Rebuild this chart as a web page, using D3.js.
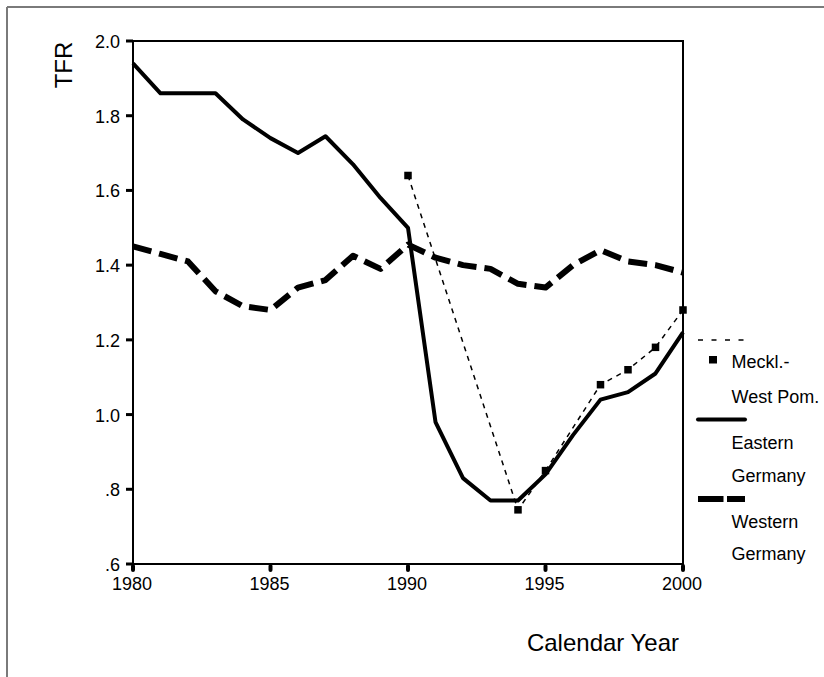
<!DOCTYPE html>
<html><head><meta charset="utf-8">
<script src="https://cdn.jsdelivr.net/npm/d3@7/dist/d3.min.js"></script>
<style>body{margin:0;background:#fff}svg{display:block;font-family:"Liberation Sans",Arial,sans-serif}</style>
</head><body><svg id="c" width="824" height="677"></svg>
<script>
const years = d3.range(1980, 2001);
const eastern = [1.94,1.86,1.86,1.86,1.79,1.74,1.70,1.745,1.67,1.58,1.50,0.98,0.83,0.77,0.77,0.84,0.945,1.04,1.06,1.11,1.22];
const western = [1.45,1.43,1.41,1.33,1.29,1.28,1.34,1.36,1.425,1.39,1.455,1.42,1.40,1.39,1.35,1.34,1.40,1.44,1.41,1.40,1.38];
const mecklYears = [1990,1994,1995,1997,1998,1999,2000];
const meckl = [1.64,0.745,0.85,1.08,1.12,1.18,1.28];
const yTicks = [0.6,0.8,1.0,1.2,1.4,1.6,1.8,2.0];
const yTickLabels = [".6",".8","1.0","1.2","1.4","1.6","1.8","2.0"];
const xTicks = [1980,1985,1990,1995,2000];
const legendItems = [
  {lines:["Meckl.-","West Pom."], key:"meckl"},
  {lines:["Eastern","Germany"], key:"eastern"},
  {lines:["Western","Germany"], key:"western"}
];

const svg = d3.select("#c");
const x = d3.scaleLinear().domain([1980,2000]).range([133,683]);
const y = d3.scaleLinear().domain([0.6,2.0]).range([564,41]);

// outer frame (partially visible)
svg.append("line").attr("x1",7).attr("x2",824).attr("y1",7).attr("y2",7).attr("stroke","#7a7a7a").attr("stroke-width",2);
svg.append("line").attr("x1",7).attr("x2",7).attr("y1",7).attr("y2",677).attr("stroke","#7a7a7a").attr("stroke-width",2);

// plot box
svg.append("rect").attr("x",x(1980)).attr("y",y(2.0)).attr("width",x(2000)-x(1980)).attr("height",y(0.6)-y(2.0))
  .attr("fill","none").attr("stroke","#000").attr("stroke-width",2);

// y axis ticks & labels
const yg = svg.append("g");
yTicks.forEach((v,i)=>{
  yg.append("line").attr("x1",126).attr("x2",133).attr("y1",y(v)).attr("y2",y(v)).attr("stroke","#000").attr("stroke-width",3);
  yg.append("text").attr("x",120).attr("y",y(v)+7).attr("text-anchor","end").attr("font-size",18).attr("fill","#000").text(yTickLabels[i]);
});
// x axis ticks & labels
const xg = svg.append("g");
xTicks.forEach(v=>{
  xg.append("line").attr("x1",x(v)).attr("x2",x(v)).attr("y1",566).attr("y2",570).attr("stroke","#000").attr("stroke-width",4).attr("stroke-linecap","round");
  xg.append("text").attr("x",x(v)-1).attr("y",589.5).attr("text-anchor","middle").attr("font-size",18).attr("fill","#000").text(v);
});

// axis titles
svg.append("text").attr("transform","translate(72,65) rotate(-90)").attr("text-anchor","middle").attr("font-size",24).text("TFR");
svg.append("text").attr("x",603).attr("y",651).attr("text-anchor","middle").attr("font-size",24).text("Calendar Year");

const line = d3.line().x(d=>x(d[0])).y(d=>y(d[1]));
const clip = svg.append("g");
// Western Germany
clip.append("path").datum(years.map((yr,i)=>[yr,western[i]])).attr("d",line)
  .attr("fill","none").attr("stroke","#000").attr("stroke-width",6).attr("stroke-dasharray","19,8").attr("stroke-linejoin","round");
// Eastern Germany
clip.append("path").datum(years.map((yr,i)=>[yr,eastern[i]])).attr("d",line)
  .attr("fill","none").attr("stroke","#000").attr("stroke-width",4).attr("stroke-linejoin","round");
// Meckl.-West Pom.
clip.append("path").datum(mecklYears.map((yr,i)=>[yr,meckl[i]])).attr("d",line)
  .attr("fill","none").attr("stroke","#000").attr("stroke-width",1.5).attr("stroke-dasharray","5,5");
clip.selectAll("rect.m").data(mecklYears.map((yr,i)=>[yr,meckl[i]])).enter().append("rect")
  .attr("x",d=>x(d[0])-3.75).attr("y",d=>y(d[1])-3.75).attr("width",7.5).attr("height",7.5).attr("fill","#000");

// legend
const lg = svg.append("g");
lg.append("line").attr("x1",698).attr("x2",746).attr("y1",340).attr("y2",340).attr("stroke","#000").attr("stroke-width",1.5).attr("stroke-dasharray","5,8.5");
lg.append("rect").attr("x",709).attr("y",356).attr("width",8).attr("height",7.5).attr("fill","#000");
lg.append("line").attr("x1",698).attr("x2",745).attr("y1",419.5).attr("y2",419.5).attr("stroke","#000").attr("stroke-width",4).attr("stroke-linecap","round");
lg.append("line").attr("x1",698).attr("x2",745).attr("y1",499).attr("y2",499).attr("stroke","#000").attr("stroke-width",6).attr("stroke-dasharray","25.5,3.5");
const baselines = [[368.3,402.7],[449.3,481.7],[528.3,560]];
legendItems.forEach((it,i)=>{
  it.lines.forEach((t,j)=>{
    lg.append("text").attr("x",731.5).attr("y",baselines[i][j]).attr("font-size",18).attr("fill","#000").text(t);
  });
});
</script></body></html>
